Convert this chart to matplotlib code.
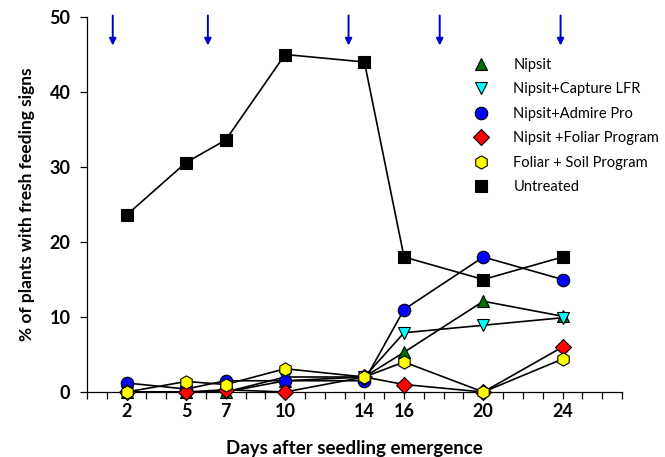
import matplotlib
matplotlib.use("Agg")
import matplotlib.pyplot as plt
from matplotlib.lines import Line2D

days = [2, 5, 7, 10, 14, 16, 20, 24]
nipsit = [0, 0, 0, 1.5, 2.0, 5.3, 12.1, 10.1]
capture = [0, 0, 0, 2.0, 2.0, 7.9, 8.9, 9.9]
admire = [1.2, 0.4, 1.5, 1.5, 1.5, 11.0, 18.0, 15.0]
foliar = [0, 0, 0.3, 0, 2.0, 1.0, 0, 6.0]
foliar_soil = [0, 1.4, 1.0, 3.1, 2.0, 4.0, 0, 4.4]
untreated = [23.6, 30.6, 33.6, 45.0, 44.0, 18.0, 15.0, 18.0]

labels = ["Nipsit", "Nipsit+Capture LFR", "Nipsit+Admire Pro",
          "Nipsit +Foliar Program", "Foliar + Soil Program", "Untreated"]
spray_days = [1.3, 6.1, 13.2, 17.8, 23.9]
tick_labels = [2, 5, 7, 10, 14, 16, 20, 24]

plt.rcParams['font.family'] = ['Lato', 'DejaVu Sans']

fig = plt.figure(figsize=(6.65, 4.57), dpi=100)
ax = fig.add_axes([87/665, 1-392/457, (622-87)/665, (392-17)/457])

series = [
    (nipsit, '^', '#007000', 8.5),
    (capture, 'v', '#00FFFF', 8.5),
    (admire, 'o', '#0000FF', 9),
    (foliar, 'D', '#FF0000', 8),
    (foliar_soil, 'h', '#FFFF00', 9.5),
    (untreated, 's', '#000000', 8),
]
for (vals, m, c, ms), lab in zip(series, labels):
    ax.plot(days, vals, color='black', lw=1.2, marker=m, markerfacecolor=c,
            markeredgecolor='black', markeredgewidth=0.8, markersize=ms,
            label=lab, clip_on=False, zorder=3)

for d in spray_days:
    ax.annotate('', xy=(d, 46.2), xytext=(d, 50.2),
                arrowprops=dict(arrowstyle='-|>', color='#0000CC', lw=1.4,
                                mutation_scale=10, shrinkA=0, shrinkB=0),
                annotation_clip=False)

ax.set_xlim(0, 27)
ax.set_ylim(0, 50)
ax.set_xticks(range(0, 28))
ax.set_xticklabels([str(i) if i in tick_labels else '' for i in range(0, 28)],
                   fontsize=13, fontweight='bold')
ax.set_yticks([0, 10, 20, 30, 40, 50])
ax.set_yticklabels(['0', '10', '20', '30', '40', '50'], fontsize=13, fontweight='bold')
ax.tick_params(axis='both', direction='out', length=5, width=0.9, color='black')
ax.tick_params(axis='y', pad=7)
ax.tick_params(axis='x', pad=3)
ax.spines['top'].set_visible(False)
ax.spines['right'].set_visible(False)
ax.spines['left'].set_linewidth(0.9)
ax.spines['bottom'].set_linewidth(0.9)

ax.set_xlabel('Days after seedling emergence', fontsize=13.5, fontweight='bold', labelpad=14)
ax.set_ylabel('% of plants with fresh feeding signs', fontsize=12.5, fontweight='bold', labelpad=10)

handles, labs = ax.get_legend_handles_labels()
leg_handles = [Line2D([], [], ls='none', marker=h.get_marker(), markerfacecolor=h.get_markerfacecolor(),
                      markeredgecolor='black', markeredgewidth=0.8, markersize=h.get_markersize())
               for h in handles]
ax.legend(leg_handles, labs, loc='upper left', bbox_to_anchor=(461/665, 1-52/457),
          bbox_transform=fig.transFigure, frameon=False, fontsize=10.5,
          handletextpad=1.2, labelspacing=0.72, borderaxespad=0)

fig.savefig('out.png', dpi=100)
